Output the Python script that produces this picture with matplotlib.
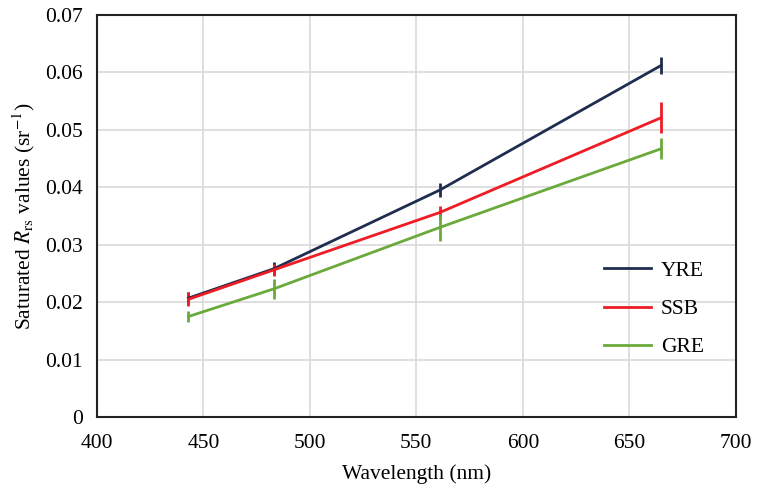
import matplotlib
matplotlib.use("Agg")
from matplotlib import pyplot as plt
from matplotlib.lines import Line2D
import numpy as np

# band centres (nm)
wavelength = [443, 483, 561, 665]

# saturated Rrs per region and their error bars
yre = [0.0207, 0.0258, 0.0395, 0.0612]
yre_err = [0.0011, 0.0011, 0.0012, 0.0015]
ssb = [0.0205, 0.0256, 0.0356, 0.0521]
ssb_err = [0.0012, 0.0010, 0.0011, 0.0027]
gre = [0.0175, 0.0223, 0.0330, 0.0467]
gre_err = [0.0010, 0.0017, 0.0024, 0.0018]

names = ["YRE", "SSB", "GRE"]
colors = ["#1f2d4e", "#ee1c25", "#6aaa3a"]

plt.rcParams['font.family'] = ['Liberation Serif', 'DejaVu Serif']
plt.rcParams['mathtext.fontset'] = 'stix'

fig = plt.figure(figsize=(7.57, 4.93), dpi=100)
ax = fig.add_axes([0.128, 0.154, 0.844, 0.816])

handles = []
for vals, err, name, c in zip([yre, ssb, gre], [yre_err, ssb_err, gre_err], names, colors):
	ax.errorbar(wavelength, vals, yerr=err, color=c, lw=2, elinewidth=2, capsize=0)
	handles.append(Line2D([], [], color=c, lw=2, label=name))

ax.set_xlim(400, 700)
ax.set_ylim(0, 0.07)
ax.set_xticks(np.arange(400, 701, 50))
ax.set_yticks(np.arange(0, 0.0701, 0.01))
ax.set_yticklabels(["0"] + ["%.2f" % v for v in np.arange(0.01, 0.0701, 0.01)])
ax.tick_params(length=0, labelsize=15.5)
ax.tick_params(axis="x", pad=12)
ax.tick_params(axis="y", pad=10)
ax.grid(True, color="#d9d9d9", lw=1.2)
ax.set_axisbelow(True)
for s in ax.spines.values():
	s.set_linewidth(1.5)
	s.set_color("#222222")

ax.set_xlabel("Wavelength (nm)", fontsize=15.5, labelpad=8)
ax.set_ylabel(r"Saturated $R_{\mathrm{rs}}$ values (sr$^{-1}$)", fontsize=15.5, labelpad=6)

ax.legend(handles=handles, loc="lower right", bbox_to_anchor=(0.98, 0.10), frameon=False,
	fontsize=15.5, handlelength=2.2, handletextpad=0.45, labelspacing=0.85)

fig.savefig("out.png", dpi=100)
